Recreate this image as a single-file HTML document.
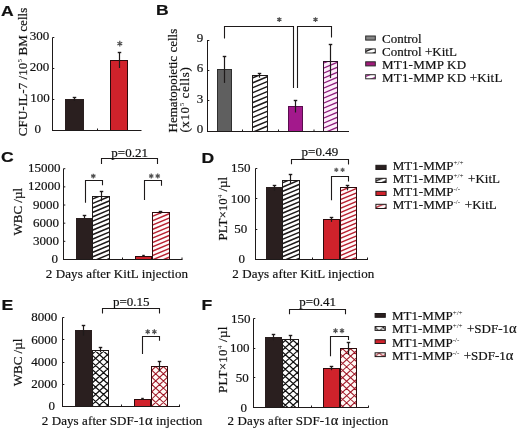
<!DOCTYPE html>
<html><head><meta charset="utf-8"><style>
html,body{margin:0;padding:0;background:#fff;width:520px;height:430px;overflow:hidden}
svg{display:block}
text{font-family:"Liberation Serif",serif;fill:#111;stroke:#111;stroke-width:0.2px}
.pl{font-family:"Liberation Sans",sans-serif;font-weight:bold;font-size:15px;fill:#111}
</style></head><body>
<svg width="520" height="430" viewBox="0 0 520 430">
<defs>
<filter id="gs" filterUnits="userSpaceOnUse" x="0" y="0" width="520" height="430" color-interpolation-filters="sRGB"><feColorMatrix type="matrix" values="1 0 0 0 0  0 1 0 0 0  0 0 1 0 0  0 0 0 1 0"/><feGaussianBlur stdDeviation="0.3"/></filter>
<pattern id="hb" patternUnits="userSpaceOnUse" x="0" y="0" width="10.4762" height="4.4"><rect width="10.4762" height="4.4" fill="#fff"/><path d="M-1,0.420L11.476,-4.820M-1,4.820L11.476,-0.420M-1,9.220L11.476,3.980M-1,13.620L11.476,8.380" stroke="#1e1a1a" stroke-width="1.55" fill="none"/></pattern>
<pattern id="hbB" patternUnits="userSpaceOnUse" x="0" y="0" width="11.9048" height="5.0"><rect width="11.9048" height="5.0" fill="#fff"/><path d="M-1,0.420L12.905,-5.420M-1,5.420L12.905,-0.420M-1,10.420L12.905,4.580M-1,15.420L12.905,9.580" stroke="#1e1a1a" stroke-width="1.45" fill="none"/></pattern>
<pattern id="hr" patternUnits="userSpaceOnUse" x="0" y="0" width="10.3571" height="4.35"><rect width="10.3571" height="4.35" fill="#fffafa"/><path d="M-1,0.420L11.357,-4.770M-1,4.770L11.357,-0.420M-1,9.120L11.357,3.930M-1,13.470L11.357,8.280" stroke="#b82030" stroke-width="1.4" fill="none"/></pattern>
<pattern id="hm" patternUnits="userSpaceOnUse" x="0" y="0" width="11.9048" height="5.0"><rect width="11.9048" height="5.0" fill="#fff"/><path d="M-1,0.420L12.905,-5.420M-1,5.420L12.905,-0.420M-1,10.420L12.905,4.580M-1,15.420L12.905,9.580" stroke="#b0289a" stroke-width="1.25" fill="none"/></pattern>
<pattern id="cb" patternUnits="userSpaceOnUse" x="0" y="0" width="7.9" height="7.2"><rect width="7.9" height="7.2" fill="#fff"/><path d="M-7.9,-7.2L15.8,14.4M-7.9,14.4L15.8,-7.2M0,-7.2L15.8,7.2M-7.9,0L7.9,14.4M0,14.4L15.8,0M-7.9,7.2L7.9,-7.2" stroke="#1e1a1a" stroke-width="1.1" fill="none"/></pattern>
<pattern id="cr" patternUnits="userSpaceOnUse" x="0" y="0" width="7.9" height="7.2"><rect width="7.9" height="7.2" fill="#fff8f4"/><path d="M-7.9,-7.2L15.8,14.4M-7.9,14.4L15.8,-7.2M0,-7.2L15.8,7.2M-7.9,0L7.9,14.4M0,14.4L15.8,0M-7.9,7.2L7.9,-7.2" stroke="#9e1a2a" stroke-width="1.1" fill="none"/></pattern>
<pattern id="cbE" patternUnits="userSpaceOnUse" x="95.6" y="351.1" width="7.9" height="7.2"><rect width="7.9" height="7.2" fill="#fff"/><path d="M-7.9,-7.2L15.8,14.4M-7.9,14.4L15.8,-7.2M0,-7.2L15.8,7.2M-7.9,0L7.9,14.4M0,14.4L15.8,0M-7.9,7.2L7.9,-7.2" stroke="#111" stroke-width="1.3" fill="none"/></pattern>
<pattern id="crE" patternUnits="userSpaceOnUse" x="155.7" y="373.8" width="7.7" height="7.15"><rect width="7.7" height="7.15" fill="#fff8f4"/><path d="M-7.7,-7.15L15.4,14.3M-7.7,14.3L15.4,-7.15M0,-7.15L15.4,7.15M-7.7,0L7.7,14.3M0,14.3L15.4,0M-7.7,7.15L7.7,-7.15" stroke="#a01828" stroke-width="1.05" fill="none"/></pattern>
<pattern id="cbF" patternUnits="userSpaceOnUse" x="285.35" y="347.56" width="7.9" height="7.2"><rect width="7.9" height="7.2" fill="#fff"/><path d="M-7.9,-7.2L15.8,14.4M-7.9,14.4L15.8,-7.2M0,-7.2L15.8,7.2M-7.9,0L7.9,14.4M0,14.4L15.8,0M-7.9,7.2L7.9,-7.2" stroke="#111" stroke-width="1.3" fill="none"/></pattern>
<pattern id="crF" patternUnits="userSpaceOnUse" x="342.65" y="363.26" width="7.9" height="7.2"><rect width="7.9" height="7.2" fill="#fff8f4"/><path d="M-7.9,-7.2L15.8,14.4M-7.9,14.4L15.8,-7.2M0,-7.2L15.8,7.2M-7.9,0L7.9,14.4M0,14.4L15.8,0M-7.9,7.2L7.9,-7.2" stroke="#a01828" stroke-width="1.05" fill="none"/></pattern>
</defs>
<rect width="520" height="430" fill="#fff"/>
<g filter="url(#gs)">
<text transform="translate(1,16) scale(1.17,1)" class="pl">A</text>
<text transform="translate(26.5,136.2) rotate(-90)" font-size="13" letter-spacing="0.09">CFU-IL-7 /10<tspan font-size="7" dy="-5" style="stroke-width:0">5</tspan><tspan dy="5"> BM cells</tspan></text>
<rect x="65" y="99" width="19" height="31.5" fill="#2a1f1f"/>
<rect x="110.5" y="60.5" width="17" height="70.0" fill="#d0222b" stroke="#2c0a0c" stroke-width="1"/>
<line x1="74.5" y1="97.5" x2="74.5" y2="101" stroke="#1e1a1a" stroke-width="1.2"/>
<line x1="72.75" y1="97.5" x2="76.25" y2="97.5" stroke="#1e1a1a" stroke-width="1.4"/>
<line x1="119.5" y1="52.5" x2="119.5" y2="68" stroke="#1e1a1a" stroke-width="1.2"/>
<line x1="117.75" y1="52.5" x2="121.25" y2="52.5" stroke="#1e1a1a" stroke-width="1.4"/>
<path d="M119.80,46.40L119.80,40.80M117.38,45.00L122.22,42.20M117.38,42.20L122.22,45.00" stroke="#505050" stroke-width="1.2" fill="none"/>
<line x1="52.5" y1="37.5" x2="52.5" y2="130.5" stroke="#1e1a1a" stroke-width="1"/>
<line x1="52.5" y1="37.5" x2="54.3" y2="37.5" stroke="#1e1a1a" stroke-width="1"/>
<line x1="52.5" y1="68.5" x2="54.3" y2="68.5" stroke="#1e1a1a" stroke-width="1"/>
<line x1="52.5" y1="99.5" x2="54.3" y2="99.5" stroke="#1e1a1a" stroke-width="1"/>
<text x="29.8" y="39.9" font-size="13" text-anchor="start" >300</text>
<text x="29.8" y="70.9" font-size="13" text-anchor="start" >200</text>
<text x="30.3" y="101.9" font-size="13" text-anchor="start" >100</text>
<text x="34.6" y="132.6" font-size="13" text-anchor="start" >0</text>
<line x1="52" y1="130.5" x2="141.5" y2="130.5" stroke="#1e1a1a" stroke-width="1"/>
<line x1="97.5" y1="130.5" x2="97.5" y2="128.5" stroke="#1e1a1a" stroke-width="1"/>
<text transform="translate(156,15.3) scale(1.17,1)" class="pl">B</text>
<text transform="translate(176.6,132.4) rotate(-90)" font-size="13" >Hematopoietic cells</text>
<text transform="translate(188.8,132.6) rotate(-90)" font-size="13" letter-spacing="0.6">(x10<tspan font-size="7" dy="-5" style="stroke-width:0">5</tspan><tspan dy="5"> cells)</tspan></text>
<rect x="217.5" y="69.5" width="14" height="62.0" fill="#5f5f5f" stroke="#2e2e2e" stroke-width="1"/>
<clipPath id="c1"><rect x="252" y="75" width="16" height="56.5"/></clipPath>
<rect x="252" y="75" width="16" height="56.5" fill="#fff"/>
<path clip-path="url(#c1)" d="M250.00,69.08L270.00,60.68M250.00,74.03L270.00,65.63M250.00,78.98L270.00,70.58M250.00,83.93L270.00,75.53M250.00,88.88L270.00,80.48M250.00,93.83L270.00,85.43M250.00,98.78L270.00,90.38M250.00,103.73L270.00,95.33M250.00,108.68L270.00,100.28M250.00,113.63L270.00,105.23M250.00,118.58L270.00,110.18M250.00,123.53L270.00,115.13M250.00,128.48L270.00,120.08M250.00,133.43L270.00,125.03M250.00,138.38L270.00,129.98M250.00,143.33L270.00,134.93M250.00,148.28L270.00,139.88" stroke="#1e1a1a" stroke-width="1.45" fill="none"/>
<rect x="252.5" y="75.5" width="15" height="56.0" fill="none" stroke="#1e1a1a" stroke-width="1"/>
<rect x="288.5" y="106.5" width="14" height="25.0" fill="#a3198c" stroke="#5a0d4e" stroke-width="1"/>
<clipPath id="c2"><rect x="323" y="61" width="15" height="70.5"/></clipPath>
<rect x="323" y="61" width="15" height="70.5" fill="#fcecf9"/>
<path clip-path="url(#c2)" d="M321.00,54.22L340.00,46.24M321.00,59.22L340.00,51.24M321.00,64.22L340.00,56.24M321.00,69.22L340.00,61.24M321.00,74.22L340.00,66.24M321.00,79.22L340.00,71.24M321.00,84.22L340.00,76.24M321.00,89.22L340.00,81.24M321.00,94.22L340.00,86.24M321.00,99.22L340.00,91.24M321.00,104.22L340.00,96.24M321.00,109.22L340.00,101.24M321.00,114.22L340.00,106.24M321.00,119.22L340.00,111.24M321.00,124.22L340.00,116.24M321.00,129.22L340.00,121.24M321.00,134.22L340.00,126.24M321.00,139.22L340.00,131.24M321.00,144.22L340.00,136.24M321.00,149.22L340.00,141.24" stroke="#8e1c7c" stroke-width="1.3" fill="none"/>
<rect x="323.5" y="61.5" width="14" height="70.0" fill="none" stroke="#2a1026" stroke-width="1"/>
<line x1="224.5" y1="56.5" x2="224.5" y2="82.9" stroke="#1e1a1a" stroke-width="1.2"/>
<line x1="222.75" y1="56.5" x2="226.25" y2="56.5" stroke="#1e1a1a" stroke-width="1.4"/>
<line x1="259.5" y1="73.5" x2="259.5" y2="77.7" stroke="#1e1a1a" stroke-width="1.2"/>
<line x1="257.75" y1="73.5" x2="261.25" y2="73.5" stroke="#1e1a1a" stroke-width="1.4"/>
<line x1="295.5" y1="100.5" x2="295.5" y2="112.5" stroke="#1e1a1a" stroke-width="1.2"/>
<line x1="293.75" y1="100.5" x2="297.25" y2="100.5" stroke="#1e1a1a" stroke-width="1.4"/>
<line x1="330.5" y1="44.5" x2="330.5" y2="78.1" stroke="#1e1a1a" stroke-width="1.2"/>
<line x1="328.75" y1="44.5" x2="332.25" y2="44.5" stroke="#1e1a1a" stroke-width="1.4"/>
<line x1="207.5" y1="40" x2="207.5" y2="131.5" stroke="#1e1a1a" stroke-width="1"/>
<line x1="207.5" y1="40.5" x2="209.3" y2="40.5" stroke="#1e1a1a" stroke-width="1"/>
<line x1="207.5" y1="70.5" x2="209.3" y2="70.5" stroke="#1e1a1a" stroke-width="1"/>
<line x1="207.5" y1="100.5" x2="209.3" y2="100.5" stroke="#1e1a1a" stroke-width="1"/>
<text x="196.8" y="41.6" font-size="13" text-anchor="start" >9</text>
<text x="196.8" y="71.6" font-size="13" text-anchor="start" >6</text>
<text x="196.8" y="102.6" font-size="13" text-anchor="start" >3</text>
<text x="196.8" y="132.6" font-size="13" text-anchor="start" >0</text>
<line x1="207" y1="131.5" x2="349" y2="131.5" stroke="#1e1a1a" stroke-width="1"/>
<line x1="242.5" y1="131.5" x2="242.5" y2="129.5" stroke="#1e1a1a" stroke-width="1"/>
<line x1="278.5" y1="131.5" x2="278.5" y2="129.5" stroke="#1e1a1a" stroke-width="1"/>
<line x1="314" y1="131.5" x2="314" y2="129.5" stroke="#1e1a1a" stroke-width="1"/>
<polyline points="224.5,38.5 224.5,26.5 293.5,26.5 293.5,87.9" fill="none" stroke="#1e1a1a" stroke-width="1.1"/>
<polyline points="297.5,87.9 297.5,26.5 331.5,26.5 331.5,37.5" fill="none" stroke="#1e1a1a" stroke-width="1.1"/>
<path d="M279.30,22.05L279.30,17.15M277.18,20.83L281.42,18.38M277.18,18.38L281.42,20.83" stroke="#505050" stroke-width="1.2" fill="none"/>
<path d="M315.50,22.05L315.50,17.15M313.38,20.83L317.62,18.38M313.38,18.38L317.62,20.83" stroke="#505050" stroke-width="1.2" fill="none"/>
<rect x="365.7" y="36.0" width="9.6" height="4.1" fill="#858585" stroke="#2a2a2a" stroke-width="1"/>
<text x="382" y="43.3" font-size="13" text-anchor="start" >Control</text>
<rect x="365.7" y="48.9" width="9.6" height="4.1" fill="url(#hbB)" stroke="#2a2a2a" stroke-width="1"/>
<text x="382" y="56.199999999999996" font-size="13" text-anchor="start" >Control +KitL</text>
<rect x="365.7" y="61.8" width="9.6" height="4.1" fill="#a01a7a" stroke="#2a2a2a" stroke-width="1"/>
<text x="382" y="69.1" font-size="13" text-anchor="start" letter-spacing="0.2">MT1-MMP KD</text>
<rect x="365.7" y="74.7" width="9.6" height="4.1" fill="url(#hm)" stroke="#2a2a2a" stroke-width="1"/>
<text x="382" y="82.0" font-size="13" text-anchor="start" letter-spacing="0.2">MT1-MMP KD +KitL</text>
<text transform="translate(1,162.3) scale(1.17,1)" class="pl">C</text>
<text transform="translate(22.2,235.5) rotate(-90)" font-size="13" >WBC /µl</text>
<rect x="76" y="218" width="16" height="41.5" fill="#2a1f1f"/>
<clipPath id="c3"><rect x="92" y="196" width="18" height="63.5"/></clipPath>
<rect x="92" y="196" width="18" height="63.5" fill="#fff"/>
<path clip-path="url(#c3)" d="M90.00,191.21L112.00,181.97M90.00,195.66L112.00,186.42M90.00,200.11L112.00,190.87M90.00,204.56L112.00,195.32M90.00,209.01L112.00,199.77M90.00,213.46L112.00,204.22M90.00,217.91L112.00,208.67M90.00,222.36L112.00,213.12M90.00,226.81L112.00,217.57M90.00,231.26L112.00,222.02M90.00,235.71L112.00,226.47M90.00,240.16L112.00,230.92M90.00,244.61L112.00,235.37M90.00,249.06L112.00,239.82M90.00,253.51L112.00,244.27M90.00,257.96L112.00,248.72M90.00,262.41L112.00,253.17M90.00,266.86L112.00,257.62M90.00,271.31L112.00,262.07M90.00,275.76L112.00,266.52" stroke="#1e1a1a" stroke-width="1.55" fill="none"/>
<rect x="92.5" y="196.5" width="17" height="63.0" fill="none" stroke="#1e1a1a" stroke-width="1"/>
<rect x="135.5" y="256.5" width="16" height="3.0" fill="#d0222b" stroke="#2c0a0c" stroke-width="1"/>
<clipPath id="c4"><rect x="152" y="212" width="18" height="47.5"/></clipPath>
<rect x="152" y="212" width="18" height="47.5" fill="#fffafa"/>
<path clip-path="url(#c4)" d="M150.00,204.37L172.00,195.13M150.00,208.72L172.00,199.48M150.00,213.07L172.00,203.83M150.00,217.42L172.00,208.18M150.00,221.77L172.00,212.53M150.00,226.12L172.00,216.88M150.00,230.47L172.00,221.23M150.00,234.82L172.00,225.58M150.00,239.17L172.00,229.93M150.00,243.52L172.00,234.28M150.00,247.87L172.00,238.63M150.00,252.22L172.00,242.98M150.00,256.57L172.00,247.33M150.00,260.92L172.00,251.68M150.00,265.27L172.00,256.03M150.00,269.62L172.00,260.38M150.00,273.97L172.00,264.73" stroke="#b82030" stroke-width="1.4" fill="none"/>
<rect x="152.5" y="212.5" width="17" height="47.0" fill="none" stroke="#2c0a0c" stroke-width="1"/>
<line x1="84.5" y1="215.5" x2="84.5" y2="218.5" stroke="#1e1a1a" stroke-width="1.2"/>
<line x1="82.75" y1="215.5" x2="86.25" y2="215.5" stroke="#1e1a1a" stroke-width="1.4"/>
<line x1="101.5" y1="191.5" x2="101.5" y2="201.3" stroke="#1e1a1a" stroke-width="1.2"/>
<line x1="99.75" y1="191.5" x2="103.25" y2="191.5" stroke="#1e1a1a" stroke-width="1.4"/>
<line x1="143.5" y1="255.5" x2="143.5" y2="256" stroke="#1e1a1a" stroke-width="1.2"/>
<line x1="142.25" y1="255.5" x2="144.75" y2="255.5" stroke="#1e1a1a" stroke-width="1.4"/>
<line x1="160.5" y1="211.5" x2="160.5" y2="213.5" stroke="#1e1a1a" stroke-width="1.2"/>
<line x1="158.75" y1="211.5" x2="162.25" y2="211.5" stroke="#1e1a1a" stroke-width="1.4"/>
<line x1="63.5" y1="168.7" x2="63.5" y2="259.5" stroke="#1e1a1a" stroke-width="1"/>
<line x1="63.5" y1="168.7" x2="65.3" y2="168.7" stroke="#1e1a1a" stroke-width="1"/>
<line x1="63.5" y1="186.85999999999999" x2="65.3" y2="186.85999999999999" stroke="#1e1a1a" stroke-width="1"/>
<line x1="63.5" y1="205.01999999999998" x2="65.3" y2="205.01999999999998" stroke="#1e1a1a" stroke-width="1"/>
<line x1="63.5" y1="223.18" x2="65.3" y2="223.18" stroke="#1e1a1a" stroke-width="1"/>
<line x1="63.5" y1="241.33999999999997" x2="65.3" y2="241.33999999999997" stroke="#1e1a1a" stroke-width="1"/>
<text x="28.0" y="172.1" font-size="13" text-anchor="start" >15000</text>
<text x="28.0" y="190.3" font-size="13" text-anchor="start" >12000</text>
<text x="33.0" y="208.7" font-size="13" text-anchor="start" >9000</text>
<text x="33.0" y="227.4" font-size="13" text-anchor="start" >6000</text>
<text x="33.0" y="245.2" font-size="13" text-anchor="start" >3000</text>
<text x="51.6" y="263.0" font-size="13" text-anchor="start" >0</text>
<line x1="63" y1="259.5" x2="182.5" y2="259.5" stroke="#1e1a1a" stroke-width="1"/>
<line x1="122.5" y1="259.5" x2="122.5" y2="257.5" stroke="#1e1a1a" stroke-width="1"/>
<line x1="182" y1="259.5" x2="182" y2="257.5" stroke="#1e1a1a" stroke-width="1"/>
<polyline points="85.5,202.7 85.5,180.5 102.5,180.5 102.5,185.3" fill="none" stroke="#1e1a1a" stroke-width="1.1"/>
<polyline points="144.5,200 144.5,180.5 161.5,180.5 161.5,185.7" fill="none" stroke="#1e1a1a" stroke-width="1.1"/>
<polyline points="101.5,163.9 101.5,158.5 157.5,158.5 157.5,163.9" fill="none" stroke="#1e1a1a" stroke-width="1.1"/>
<path d="M93.30,178.55L93.30,173.65M91.18,177.32L95.42,174.88M91.18,174.88L95.42,177.32" stroke="#505050" stroke-width="1.2" fill="none"/>
<path d="M151.25,178.45L151.25,173.55M149.13,177.22L153.37,174.78M149.13,174.78L153.37,177.22" stroke="#505050" stroke-width="1.2" fill="none"/>
<path d="M157.75,178.45L157.75,173.55M155.63,177.22L159.87,174.78M155.63,174.78L159.87,177.22" stroke="#505050" stroke-width="1.2" fill="none"/>
<text x="111.3" y="156.5" font-size="13" text-anchor="start" >p=0.21</text>
<text x="45.8" y="278.1" font-size="13" text-anchor="start" letter-spacing="0.1">2 Days after KitL injection</text>
<text transform="translate(201.4,162.8) scale(1.17,1)" class="pl">D</text>
<text transform="translate(227,240.5) rotate(-90)" font-size="13" >PLT×10<tspan font-size="7" dy="-5" style="stroke-width:0">4</tspan><tspan dy="5"> /µl</tspan></text>
<rect x="266" y="187" width="16" height="72.5" fill="#2a1f1f"/>
<clipPath id="c5"><rect x="282" y="180" width="18" height="79.5"/></clipPath>
<rect x="282" y="180" width="18" height="79.5" fill="#fff"/>
<path clip-path="url(#c5)" d="M280.00,175.12L302.00,165.88M280.00,179.47L302.00,170.23M280.00,183.82L302.00,174.58M280.00,188.17L302.00,178.93M280.00,192.52L302.00,183.28M280.00,196.87L302.00,187.63M280.00,201.22L302.00,191.98M280.00,205.57L302.00,196.33M280.00,209.92L302.00,200.68M280.00,214.27L302.00,205.03M280.00,218.62L302.00,209.38M280.00,222.97L302.00,213.73M280.00,227.32L302.00,218.08M280.00,231.67L302.00,222.43M280.00,236.02L302.00,226.78M280.00,240.37L302.00,231.13M280.00,244.72L302.00,235.48M280.00,249.07L302.00,239.83M280.00,253.42L302.00,244.18M280.00,257.77L302.00,248.53M280.00,262.12L302.00,252.88M280.00,266.47L302.00,257.23M280.00,270.82L302.00,261.58M280.00,275.17L302.00,265.93" stroke="#1e1a1a" stroke-width="1.55" fill="none"/>
<rect x="282.5" y="180.5" width="17" height="79.0" fill="none" stroke="#1e1a1a" stroke-width="1"/>
<rect x="323.5" y="219.5" width="16" height="40.0" fill="#d0222b" stroke="#2c0a0c" stroke-width="1"/>
<clipPath id="c6"><rect x="340" y="187" width="17" height="72.5"/></clipPath>
<rect x="340" y="187" width="17" height="72.5" fill="#fffafa"/>
<path clip-path="url(#c6)" d="M338.00,179.14L359.00,170.32M338.00,183.44L359.00,174.62M338.00,187.74L359.00,178.92M338.00,192.04L359.00,183.22M338.00,196.34L359.00,187.52M338.00,200.64L359.00,191.82M338.00,204.94L359.00,196.12M338.00,209.24L359.00,200.42M338.00,213.54L359.00,204.72M338.00,217.84L359.00,209.02M338.00,222.14L359.00,213.32M338.00,226.44L359.00,217.62M338.00,230.74L359.00,221.92M338.00,235.04L359.00,226.22M338.00,239.34L359.00,230.52M338.00,243.64L359.00,234.82M338.00,247.94L359.00,239.12M338.00,252.24L359.00,243.42M338.00,256.54L359.00,247.72M338.00,260.84L359.00,252.02M338.00,265.14L359.00,256.32M338.00,269.44L359.00,260.62M338.00,273.74L359.00,264.92" stroke="#b82030" stroke-width="1.4" fill="none"/>
<rect x="340.5" y="187.5" width="16" height="72.0" fill="none" stroke="#2c0a0c" stroke-width="1"/>
<line x1="274.5" y1="185.5" x2="274.5" y2="190.6" stroke="#1e1a1a" stroke-width="1.2"/>
<line x1="272.75" y1="185.5" x2="276.25" y2="185.5" stroke="#1e1a1a" stroke-width="1.4"/>
<line x1="290.5" y1="174.5" x2="290.5" y2="184.2" stroke="#1e1a1a" stroke-width="1.2"/>
<line x1="288.75" y1="174.5" x2="292.25" y2="174.5" stroke="#1e1a1a" stroke-width="1.4"/>
<line x1="331.5" y1="217.5" x2="331.5" y2="221.9" stroke="#1e1a1a" stroke-width="1.2"/>
<line x1="329.75" y1="217.5" x2="333.25" y2="217.5" stroke="#1e1a1a" stroke-width="1.4"/>
<line x1="347.5" y1="185.5" x2="347.5" y2="190.3" stroke="#1e1a1a" stroke-width="1.2"/>
<line x1="345.75" y1="185.5" x2="349.25" y2="185.5" stroke="#1e1a1a" stroke-width="1.4"/>
<line x1="255.5" y1="168.5" x2="255.5" y2="259.5" stroke="#1e1a1a" stroke-width="1"/>
<line x1="255.5" y1="168.5" x2="257.3" y2="168.5" stroke="#1e1a1a" stroke-width="1"/>
<line x1="255.5" y1="198.5" x2="257.3" y2="198.5" stroke="#1e1a1a" stroke-width="1"/>
<line x1="255.5" y1="229.5" x2="257.3" y2="229.5" stroke="#1e1a1a" stroke-width="1"/>
<text x="230.9" y="172.0" font-size="13" text-anchor="start" >150</text>
<text x="230.7" y="202.9" font-size="13" text-anchor="start" >100</text>
<text x="234.2" y="233.2" font-size="13" text-anchor="start" >50</text>
<text x="238.5" y="262.5" font-size="13" text-anchor="start" >0</text>
<line x1="255" y1="259.5" x2="368" y2="259.5" stroke="#1e1a1a" stroke-width="1"/>
<line x1="312.5" y1="259.5" x2="312.5" y2="257.5" stroke="#1e1a1a" stroke-width="1"/>
<line x1="367.5" y1="259.5" x2="367.5" y2="257.5" stroke="#1e1a1a" stroke-width="1"/>
<polyline points="291.5,164.3 291.5,159.5 348.5,159.5 348.5,164.5" fill="none" stroke="#1e1a1a" stroke-width="1.1"/>
<polyline points="331.5,200.2 331.5,176.5 348.5,176.5 348.5,181.6" fill="none" stroke="#1e1a1a" stroke-width="1.1"/>
<path d="M336.30,172.10L336.30,167.70M334.39,171.00L338.21,168.80M334.39,168.80L338.21,171.00" stroke="#606060" stroke-width="1.2" fill="none"/>
<path d="M342.60,172.10L342.60,167.70M340.69,171.00L344.51,168.80M340.69,168.80L344.51,171.00" stroke="#606060" stroke-width="1.2" fill="none"/>
<text x="301.6" y="155.9" font-size="13" text-anchor="start" >p=0.49</text>
<text x="232.2" y="278.1" font-size="13" text-anchor="start" letter-spacing="0.1">2 Days after KitL injection</text>
<rect x="375.9" y="165.3" width="10.2" height="4.2" fill="#2a1f1f" stroke="#1e1a1a" stroke-width="1"/>
<text x="392.8" y="170.4" font-size="13" text-anchor="start" >MT1-MMP<tspan font-size="7" dy="-5" style="stroke-width:0">+/+</tspan></text>
<rect x="375.9" y="178.3" width="10.2" height="4.2" fill="url(#hb)" stroke="#1e1a1a" stroke-width="1"/>
<text x="392.8" y="183.4" font-size="13" text-anchor="start" >MT1-MMP<tspan font-size="7" dy="-5" style="stroke-width:0">+/+</tspan><tspan dy="5"><tspan dx="1.5"> +KitL</tspan></tspan></text>
<rect x="375.9" y="191.3" width="10.2" height="4.2" fill="#d0222b" stroke="#1e1a1a" stroke-width="1"/>
<text x="392.8" y="196.4" font-size="13" text-anchor="start" >MT1-MMP<tspan font-size="7" dy="-5" style="stroke-width:0">-/-</tspan></text>
<rect x="375.9" y="204.3" width="10.2" height="4.2" fill="url(#hr)" stroke="#1e1a1a" stroke-width="1"/>
<text x="392.8" y="209.4" font-size="13" text-anchor="start" >MT1-MMP<tspan font-size="7" dy="-5" style="stroke-width:0">-/-</tspan><tspan dy="5"><tspan dx="1.5"> +KitL</tspan></tspan></text>
<text transform="translate(1.5,310.4) scale(1.17,1)" class="pl">E</text>
<text transform="translate(22,386.3) rotate(-90)" font-size="13" >WBC /µl</text>
<rect x="75" y="330" width="17" height="76.5" fill="#2a1f1f"/>
<clipPath id="c7"><rect x="92" y="350" width="17" height="56.5"/></clipPath>
<rect x="92" y="350" width="17" height="56.5" fill="#fff"/>
<path clip-path="url(#c7)" d="M90.00,317.20L111.00,336.34M90.00,324.40L111.00,343.54M90.00,331.60L111.00,350.74M90.00,338.80L111.00,357.94M90.00,346.00L111.00,365.14M90.00,353.20L111.00,372.34M90.00,360.40L111.00,379.54M90.00,367.60L111.00,386.74M90.00,374.80L111.00,393.94M90.00,382.00L111.00,401.14M90.00,389.20L111.00,408.34M90.00,396.40L111.00,415.54M90.00,403.60L111.00,422.74M90.00,410.80L111.00,429.94M90.00,418.00L111.00,437.14M90.00,341.80L111.00,322.66M90.00,349.00L111.00,329.86M90.00,356.20L111.00,337.06M90.00,363.40L111.00,344.26M90.00,370.60L111.00,351.46M90.00,377.80L111.00,358.66M90.00,385.00L111.00,365.86M90.00,392.20L111.00,373.06M90.00,399.40L111.00,380.26M90.00,406.60L111.00,387.46M90.00,413.80L111.00,394.66M90.00,421.00L111.00,401.86M90.00,428.20L111.00,409.06M90.00,435.40L111.00,416.26" stroke="#111" stroke-width="1.25" fill="none"/>
<rect x="92.5" y="350.5" width="16" height="56.0" fill="none" stroke="#1e1a1a" stroke-width="1"/>
<rect x="134.5" y="399.5" width="16" height="7.0" fill="#d0222b" stroke="#2c0a0c" stroke-width="1"/>
<clipPath id="c8"><rect x="151" y="366" width="17" height="40.5"/></clipPath>
<rect x="151" y="366" width="17" height="40.5" fill="#fff8f4"/>
<path clip-path="url(#c8)" d="M149.00,338.98L170.00,358.48M149.00,346.13L170.00,365.63M149.00,353.28L170.00,372.78M149.00,360.43L170.00,379.93M149.00,367.58L170.00,387.08M149.00,374.73L170.00,394.23M149.00,381.88L170.00,401.38M149.00,389.03L170.00,408.53M149.00,396.18L170.00,415.68M149.00,403.33L170.00,422.83M149.00,410.48L170.00,429.98M149.00,417.63L170.00,437.13M149.00,358.57L170.00,339.07M149.00,365.72L170.00,346.22M149.00,372.87L170.00,353.37M149.00,380.02L170.00,360.52M149.00,387.17L170.00,367.67M149.00,394.32L170.00,374.82M149.00,401.47L170.00,381.97M149.00,408.62L170.00,389.12M149.00,415.77L170.00,396.27M149.00,422.92L170.00,403.42M149.00,430.07L170.00,410.57M149.00,437.22L170.00,417.72" stroke="#a01828" stroke-width="1.05" fill="none"/>
<rect x="151.5" y="366.5" width="16" height="40.0" fill="none" stroke="#2c0a0c" stroke-width="1"/>
<line x1="83.5" y1="325.5" x2="83.5" y2="335.6" stroke="#1e1a1a" stroke-width="1.2"/>
<line x1="81.75" y1="325.5" x2="85.25" y2="325.5" stroke="#1e1a1a" stroke-width="1.4"/>
<line x1="100.5" y1="347.5" x2="100.5" y2="352.2" stroke="#1e1a1a" stroke-width="1.2"/>
<line x1="98.75" y1="347.5" x2="102.25" y2="347.5" stroke="#1e1a1a" stroke-width="1.4"/>
<line x1="142.5" y1="398.5" x2="142.5" y2="400" stroke="#1e1a1a" stroke-width="1.2"/>
<line x1="141.25" y1="398.5" x2="143.75" y2="398.5" stroke="#1e1a1a" stroke-width="1.4"/>
<line x1="159.5" y1="361.5" x2="159.5" y2="371.4" stroke="#1e1a1a" stroke-width="1.2"/>
<line x1="157.75" y1="361.5" x2="161.25" y2="361.5" stroke="#1e1a1a" stroke-width="1.4"/>
<line x1="62.5" y1="317.5" x2="62.5" y2="406.5" stroke="#1e1a1a" stroke-width="1"/>
<line x1="62.5" y1="317.5" x2="64.3" y2="317.5" stroke="#1e1a1a" stroke-width="1"/>
<line x1="62.5" y1="339.5" x2="64.3" y2="339.5" stroke="#1e1a1a" stroke-width="1"/>
<line x1="62.5" y1="362.5" x2="64.3" y2="362.5" stroke="#1e1a1a" stroke-width="1"/>
<line x1="62.5" y1="384.5" x2="64.3" y2="384.5" stroke="#1e1a1a" stroke-width="1"/>
<text x="31.2" y="320.9" font-size="13" text-anchor="start" >8000</text>
<text x="31.2" y="343.5" font-size="13" text-anchor="start" >6000</text>
<text x="31.2" y="366.0" font-size="13" text-anchor="start" >4000</text>
<text x="31.2" y="387.9" font-size="13" text-anchor="start" >2000</text>
<text x="48.6" y="410.3" font-size="13" text-anchor="start" >0</text>
<line x1="62" y1="406.5" x2="180" y2="406.5" stroke="#1e1a1a" stroke-width="1"/>
<line x1="121.5" y1="406.5" x2="121.5" y2="404.5" stroke="#1e1a1a" stroke-width="1"/>
<line x1="179.5" y1="406.5" x2="179.5" y2="404.5" stroke="#1e1a1a" stroke-width="1"/>
<polyline points="102.5,313.5 102.5,308.5 159.5,308.5 159.5,313.5" fill="none" stroke="#1e1a1a" stroke-width="1.1"/>
<polyline points="142.5,354 142.5,336.5 159.5,336.5 159.5,340.7" fill="none" stroke="#1e1a1a" stroke-width="1.1"/>
<path d="M147.70,334.15L147.70,329.25M145.58,332.93L149.82,330.47M145.58,330.47L149.82,332.93" stroke="#505050" stroke-width="1.2" fill="none"/>
<path d="M154.40,334.15L154.40,329.25M152.28,332.93L156.52,330.47M152.28,330.47L156.52,332.93" stroke="#505050" stroke-width="1.2" fill="none"/>
<text x="113.0" y="305.5" font-size="13" text-anchor="start" >p=0.15</text>
<text x="41.7" y="425.2" font-size="13" text-anchor="start" letter-spacing="0.1">2 Days after SDF-1<tspan font-size="14.5">α</tspan> injection</text>
<text transform="translate(201.5,310.3) scale(1.17,1)" class="pl">F</text>
<text transform="translate(226.8,392.9) rotate(-90)" font-size="13" letter-spacing="0.25">PLT×10<tspan font-size="7" dy="-5" style="stroke-width:0">4</tspan><tspan dy="5"> /µl</tspan></text>
<rect x="265" y="337" width="17" height="70.5" fill="#2a1f1f"/>
<clipPath id="c9"><rect x="282" y="339" width="17" height="68.5"/></clipPath>
<rect x="282" y="339" width="17" height="68.5" fill="#fff"/>
<path clip-path="url(#c9)" d="M280.00,306.68L301.00,325.82M280.00,313.88L301.00,333.02M280.00,321.08L301.00,340.22M280.00,328.28L301.00,347.42M280.00,335.48L301.00,354.62M280.00,342.68L301.00,361.82M280.00,349.88L301.00,369.02M280.00,357.08L301.00,376.22M280.00,364.28L301.00,383.42M280.00,371.48L301.00,390.62M280.00,378.68L301.00,397.82M280.00,385.88L301.00,405.02M280.00,393.08L301.00,412.22M280.00,400.28L301.00,419.42M280.00,407.48L301.00,426.62M280.00,414.68L301.00,433.82M280.00,421.88L301.00,441.02M280.00,330.84L301.00,311.70M280.00,338.04L301.00,318.90M280.00,345.24L301.00,326.10M280.00,352.44L301.00,333.30M280.00,359.64L301.00,340.50M280.00,366.84L301.00,347.70M280.00,374.04L301.00,354.90M280.00,381.24L301.00,362.10M280.00,388.44L301.00,369.30M280.00,395.64L301.00,376.50M280.00,402.84L301.00,383.70M280.00,410.04L301.00,390.90M280.00,417.24L301.00,398.10M280.00,424.44L301.00,405.30M280.00,431.64L301.00,412.50M280.00,438.84L301.00,419.70" stroke="#111" stroke-width="1.25" fill="none"/>
<rect x="282.5" y="339.5" width="16" height="68.0" fill="none" stroke="#1e1a1a" stroke-width="1"/>
<rect x="323.5" y="368.5" width="16" height="39.0" fill="#d0222b" stroke="#2c0a0c" stroke-width="1"/>
<clipPath id="c10"><rect x="340" y="348" width="17" height="59.5"/></clipPath>
<rect x="340" y="348" width="17" height="59.5" fill="#fff8f4"/>
<path clip-path="url(#c10)" d="M338.00,315.82L359.00,334.96M338.00,323.02L359.00,342.16M338.00,330.22L359.00,349.36M338.00,337.42L359.00,356.56M338.00,344.62L359.00,363.76M338.00,351.82L359.00,370.96M338.00,359.02L359.00,378.16M338.00,366.22L359.00,385.36M338.00,373.42L359.00,392.56M338.00,380.62L359.00,399.76M338.00,387.82L359.00,406.96M338.00,395.02L359.00,414.16M338.00,402.22L359.00,421.36M338.00,409.42L359.00,428.56M338.00,416.62L359.00,435.76M338.00,338.70L359.00,319.56M338.00,345.90L359.00,326.76M338.00,353.10L359.00,333.96M338.00,360.30L359.00,341.16M338.00,367.50L359.00,348.36M338.00,374.70L359.00,355.56M338.00,381.90L359.00,362.76M338.00,389.10L359.00,369.96M338.00,396.30L359.00,377.16M338.00,403.50L359.00,384.36M338.00,410.70L359.00,391.56M338.00,417.90L359.00,398.76M338.00,425.10L359.00,405.96M338.00,432.30L359.00,413.16M338.00,439.50L359.00,420.36" stroke="#a01828" stroke-width="1.05" fill="none"/>
<rect x="340.5" y="348.5" width="16" height="59.0" fill="none" stroke="#2c0a0c" stroke-width="1"/>
<line x1="273.5" y1="334.5" x2="273.5" y2="340.2" stroke="#1e1a1a" stroke-width="1.2"/>
<line x1="271.75" y1="334.5" x2="275.25" y2="334.5" stroke="#1e1a1a" stroke-width="1.4"/>
<line x1="290.5" y1="335.5" x2="290.5" y2="341.4" stroke="#1e1a1a" stroke-width="1.2"/>
<line x1="288.75" y1="335.5" x2="292.25" y2="335.5" stroke="#1e1a1a" stroke-width="1.4"/>
<line x1="331.5" y1="366.5" x2="331.5" y2="370.2" stroke="#1e1a1a" stroke-width="1.2"/>
<line x1="329.75" y1="366.5" x2="333.25" y2="366.5" stroke="#1e1a1a" stroke-width="1.4"/>
<line x1="348.5" y1="342.5" x2="348.5" y2="354.6" stroke="#1e1a1a" stroke-width="1.2"/>
<line x1="346.75" y1="342.5" x2="350.25" y2="342.5" stroke="#1e1a1a" stroke-width="1.4"/>
<line x1="253.5" y1="318.5" x2="253.5" y2="407.5" stroke="#1e1a1a" stroke-width="1"/>
<line x1="253.5" y1="318.5" x2="255.3" y2="318.5" stroke="#1e1a1a" stroke-width="1"/>
<line x1="253.5" y1="348.5" x2="255.3" y2="348.5" stroke="#1e1a1a" stroke-width="1"/>
<line x1="253.5" y1="377.5" x2="255.3" y2="377.5" stroke="#1e1a1a" stroke-width="1"/>
<text x="231.0" y="322.6" font-size="13" text-anchor="start" >150</text>
<text x="230.1" y="352.1" font-size="13" text-anchor="start" >100</text>
<text x="235.8" y="381.9" font-size="13" text-anchor="start" >50</text>
<text x="240.6" y="411.5" font-size="13" text-anchor="start" >0</text>
<line x1="253" y1="407.5" x2="368.7" y2="407.5" stroke="#1e1a1a" stroke-width="1"/>
<line x1="311.5" y1="407.5" x2="311.5" y2="405.5" stroke="#1e1a1a" stroke-width="1"/>
<line x1="368.5" y1="407.5" x2="368.5" y2="405.5" stroke="#1e1a1a" stroke-width="1"/>
<polyline points="289.5,314.2 289.5,309.5 345.5,309.5 345.5,314.2" fill="none" stroke="#1e1a1a" stroke-width="1.1"/>
<polyline points="330.5,356.2 330.5,336.5 348.5,336.5 348.5,340.1" fill="none" stroke="#1e1a1a" stroke-width="1.1"/>
<path d="M335.50,333.25L335.50,328.35M333.38,332.03L337.62,329.57M333.38,329.57L337.62,332.03" stroke="#505050" stroke-width="1.2" fill="none"/>
<path d="M342.00,333.25L342.00,328.35M339.88,332.03L344.12,329.57M339.88,329.57L344.12,332.03" stroke="#505050" stroke-width="1.2" fill="none"/>
<text x="299.3" y="305.5" font-size="13" text-anchor="start" >p=0.41</text>
<text x="227.6" y="425.2" font-size="13" text-anchor="start" letter-spacing="0.1">2 Days after SDF-1<tspan font-size="14.5">α</tspan> injection</text>
<rect x="375.1" y="313.5" width="10.2" height="3.8" fill="#2a1f1f" stroke="#1e1a1a" stroke-width="1"/>
<text x="392" y="320.3" font-size="13" text-anchor="start" >MT1-MMP<tspan font-size="7" dy="-5" style="stroke-width:0">+/+</tspan></text>
<rect x="375.1" y="326.6" width="10.2" height="3.8" fill="url(#cb)" stroke="#1e1a1a" stroke-width="1"/>
<text x="392" y="333.40000000000003" font-size="13" text-anchor="start" >MT1-MMP<tspan font-size="7" dy="-5" style="stroke-width:0">+/+</tspan><tspan dy="5"><tspan dx="1.2"> +SDF-1</tspan><tspan font-size="14.5">α</tspan></tspan></text>
<rect x="375.1" y="339.7" width="10.2" height="3.8" fill="#d0222b" stroke="#1e1a1a" stroke-width="1"/>
<text x="392" y="346.5" font-size="13" text-anchor="start" >MT1-MMP<tspan font-size="7" dy="-5" style="stroke-width:0">-/-</tspan></text>
<rect x="375.1" y="352.8" width="10.2" height="3.8" fill="url(#cr)" stroke="#1e1a1a" stroke-width="1"/>
<text x="392" y="359.6" font-size="13" text-anchor="start" >MT1-MMP<tspan font-size="7" dy="-5" style="stroke-width:0">-/-</tspan><tspan dy="5"><tspan dx="1.2"> +SDF-1</tspan><tspan font-size="14.5">α</tspan></tspan></text>
</g>
</svg>
</body></html>
